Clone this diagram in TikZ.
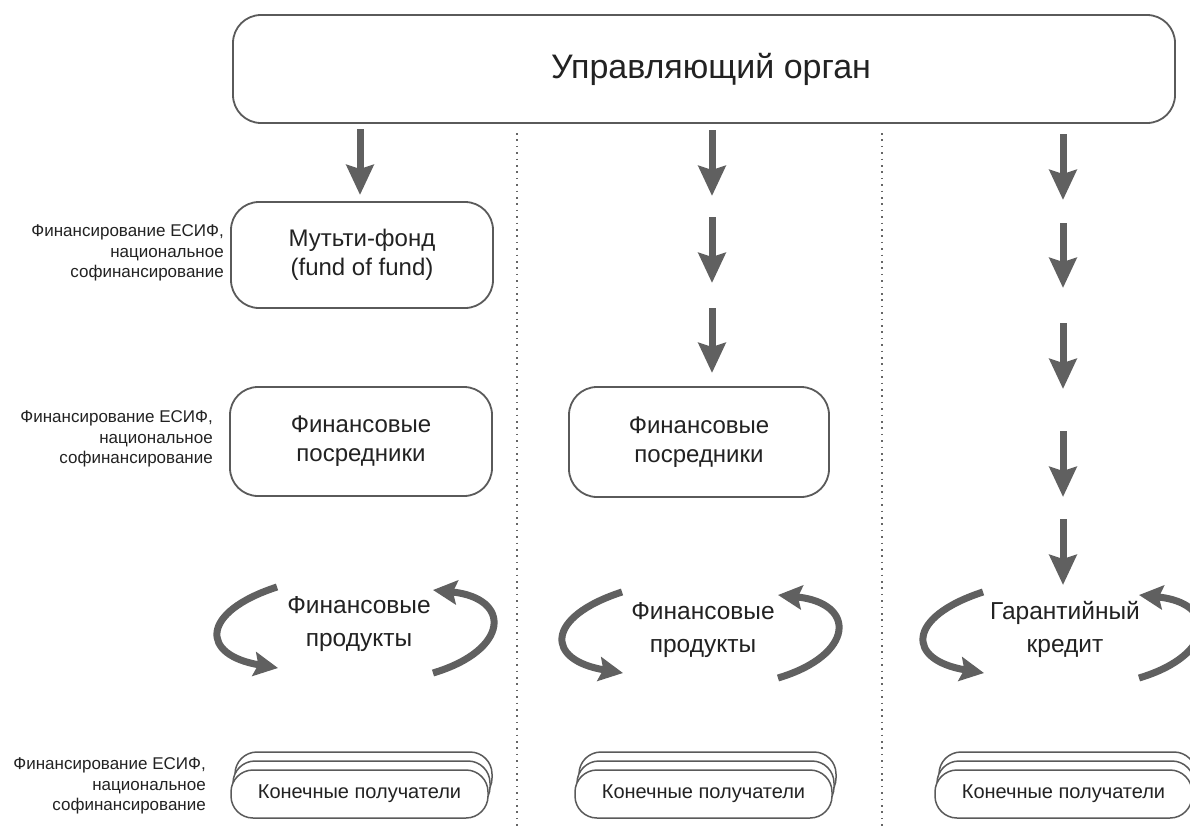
\documentclass[tikz,border=0pt]{standalone}
\usepackage{fontspec}
\setmainfont{Liberation Sans}
\usetikzlibrary{arrows.meta}
\definecolor{arr}{HTML}{606060}
\definecolor{edge}{HTML}{5a5a5a}
\definecolor{txt}{HTML}{222222}
\definecolor{dots}{HTML}{666666}
\tikzset{
  box/.style={draw=edge, line width=1.8pt, rounded corners=28pt, fill=white, align=center,
    text=txt, inner sep=0pt, font=\fontsize{24}{29}\selectfont},
  lbl/.style={align=right, anchor=east, text=txt, inner sep=0pt, font=\fontsize{17}{20.5}\selectfont},
  cyctext/.style={align=center, text=txt, inner sep=0pt, font=\fontsize{24.5}{33}\selectfont},
  stackbox/.style={draw=edge, line width=1.5pt, fill=white, rounded corners=22pt,
    minimum width=257pt, minimum height=48pt, inner sep=0pt, text=txt, font=\fontsize{20}{24}\selectfont},
  bigarrow/.style={draw=arr, line width=7pt, -{Stealth[length=30pt, width=27pt, inset=4pt]}},
  cycarrow/.style={draw=arr, line width=7pt, -{Stealth[length=24pt, width=24pt, inset=4pt]}},
  dotline/.style={draw=dots, line width=1.6pt, dash pattern=on 1.6pt off 4.8pt}
}
\begin{document}
\begin{tikzpicture}[x=1pt,y=-1pt]
\useasboundingbox (0,0) rectangle (1190,828);
\clip (0,0) rectangle (1190,828);
\fill[white] (0,0) rectangle (1190,828);

% separators
\draw[dotline] (517,133) -- (517,828);
\draw[dotline] (882,133) -- (882,828);

% top box
\node[box, minimum width=942pt, minimum height=108pt] (top) at (704,69) {};
\node[text=txt, inner sep=0pt, font=\fontsize{34}{40}\selectfont] (toptext) at (711,69) {Управляющий орган};

% column 1 boxes
\node[box, minimum width=262pt, minimum height=106pt] (mf) at (362,255) {Мутьти-фонд\\(fund of fund)};
\node[box, minimum width=262pt, minimum height=109pt] (fp1) at (361,441.5) {Финансовые\\посредники};
% column 2 box
\node[box, minimum width=260pt, minimum height=110pt] (fp2) at (699,442) {Финансовые\\посредники};

% left labels
\node[lbl] (l1) at (224,253) {Финансирование ЕСИФ,\\национальное\\софинансирование};
\node[lbl] (l2) at (213,439) {Финансирование ЕСИФ,\\национальное\\софинансирование};
\node[lbl] (l3) at (206,786) {Финансирование ЕСИФ,\\национальное\\софинансирование};

% vertical arrows column 1
\coordinate (c1a) at (360,129); \coordinate (c1b) at (360,195);
\draw[bigarrow] (c1a) -- (c1b);
% column 2
\coordinate (c2a1) at (712,130); \coordinate (c2b1) at (712,196);
\coordinate (c2a2) at (712,217); \coordinate (c2b2) at (712,283);
\coordinate (c2a3) at (712,308); \coordinate (c2b3) at (712,373);
\draw[bigarrow] (c2a1) -- (c2b1);
\draw[bigarrow] (c2a2) -- (c2b2);
\draw[bigarrow] (c2a3) -- (c2b3);
% column 3
\coordinate (c3a1) at (1063,134); \coordinate (c3b1) at (1063,200);
\coordinate (c3a2) at (1063,223); \coordinate (c3b2) at (1063,288);
\coordinate (c3a3) at (1063,323); \coordinate (c3b3) at (1063,389);
\coordinate (c3a4) at (1063,431); \coordinate (c3b4) at (1063,497);
\coordinate (c3a5) at (1063,519); \coordinate (c3b5) at (1063,585);
\draw[bigarrow] (c3a1) -- (c3b1);
\draw[bigarrow] (c3a2) -- (c3b2);
\draw[bigarrow] (c3a3) -- (c3b3);
\draw[bigarrow] (c3a4) -- (c3b4);
\draw[bigarrow] (c3a5) -- (c3b5);

% cycle texts
\node[cyctext] (cp1) at (359,624) {Финансовые\\продукты};
\node[cyctext] (cp2) at (703,630) {Финансовые\\продукты};
\node[cyctext] (cp3) at (1065,629) {Гарантийный\\кредит};

% cycle arrows
\draw[cycarrow] (277,587) .. controls (200,612) and (200,655) .. (278,668);
\draw[cycarrow] (433,673) .. controls (510,650) and (512,598) .. (433,590);
\draw[cycarrow] (622,592) .. controls (545,617) and (545,660) .. (623,673);
\draw[cycarrow] (778,678) .. controls (855,655) and (857,603) .. (778,595);
\draw[cycarrow] (983,592) .. controls (906,617) and (906,660) .. (984,673);
\draw[cycarrow] (1139,678) .. controls (1216,655) and (1218,603) .. (1139,595);

% stacked boxes
\node[stackbox] (s1c) at (363.5,776) {};
\node[stackbox] (s1b) at (361.5,785) {};
\node[stackbox] (s1a) at (359.5,794) {Конечные получатели};
\node[stackbox] (s2c) at (707.5,776) {};
\node[stackbox] (s2b) at (705.5,785) {};
\node[stackbox] (s2a) at (703.5,794) {Конечные получатели};
\node[stackbox] (s3c) at (1067.5,776) {};
\node[stackbox] (s3b) at (1065.5,785) {};
\node[stackbox] (s3a) at (1063.5,794) {Конечные получатели};
\end{tikzpicture}
\end{document}
